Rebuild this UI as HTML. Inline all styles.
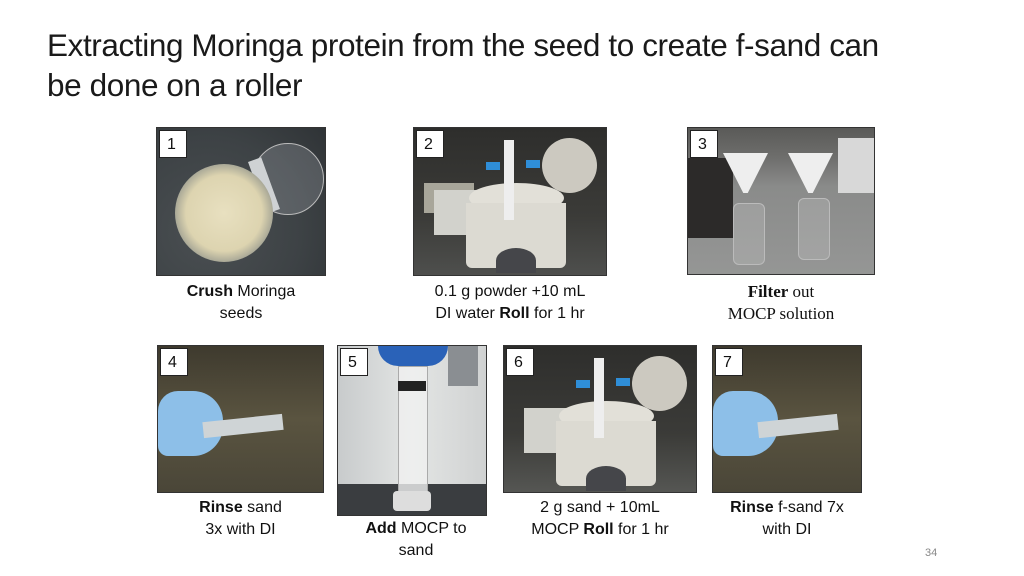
<!DOCTYPE html>
<html><head><meta charset="utf-8"><style>
body{margin:0;width:1024px;height:576px;background:#fff;position:relative;overflow:hidden;font-family:"Liberation Sans",sans-serif;color:#111}
.t{position:absolute;left:47px;top:25px;font-size:31.5px;line-height:40px;letter-spacing:-0.4px;color:#1a1a1a;white-space:nowrap}
.p{position:absolute;overflow:hidden;border:1px solid #333;box-sizing:border-box}
.n{position:absolute;left:2px;top:2px;width:28px;height:28px;background:#fff;border:1px solid #222;box-sizing:border-box;font-size:16px;line-height:27px;text-indent:7px;z-index:5}
.c{position:absolute;font-size:16px;line-height:22px;text-align:center;white-space:nowrap;color:#111}
.s{position:absolute}
.serif{font-family:"Liberation Serif",serif;font-size:17px}
</style></head><body>
<div class="t">Extracting Moringa protein from the seed to create f-sand can<br>be done on a roller</div>

<!-- 1 -->
<div class="p" style="left:156px;top:127px;width:170px;height:149px;background:radial-gradient(circle at 30% 70%,#4a4f52,#3d4245 60%,#2f3336)">
<div class="n">1</div>
<div class="s" style="left:95px;top:15px;width:70px;height:70px;border-radius:50%;border:1px solid #bbb;background:rgba(180,185,190,.25)"></div>
<div class="s" style="left:100px;top:30px;width:14px;height:55px;background:#cfd2d4;transform:rotate(-20deg)"></div>
<div class="s" style="left:18px;top:36px;width:98px;height:98px;border-radius:50%;background:radial-gradient(circle,#e8e0c0 0,#ddd4b0 55%,#8a8e88 80%,#5a5f60)"></div>
</div>
<div class="c" style="left:156px;top:281px;width:170px"><b>Crush</b> Moringa<br>seeds</div>

<!-- 2 -->
<div class="p" style="left:413px;top:127px;width:194px;height:149px;background:linear-gradient(#2e2e2c,#3b3b38 60%,#4e4f4d)">
<div class="n">2</div>
<div class="s" style="left:10px;top:55px;width:50px;height:30px;background:#a8a69a"></div>
<div class="s" style="left:20px;top:62px;width:45px;height:45px;background:#d2d2cc"></div>
<div class="s" style="left:128px;top:10px;width:55px;height:55px;border-radius:50%;background:#ccc9c0"></div>
<div class="s" style="left:55px;top:55px;width:95px;height:30px;border-radius:50%;background:#e2e0d8"></div>
<div class="s" style="left:52px;top:75px;width:100px;height:65px;background:#dcdad2;border-radius:0 0 6px 6px"></div>
<div class="s" style="left:82px;top:120px;width:40px;height:25px;border-radius:50% 50% 0 0;background:#45464a"></div>
<div class="s" style="left:90px;top:12px;width:10px;height:80px;background:#eee"></div>
<div class="s" style="left:72px;top:34px;width:14px;height:8px;background:#2f8ed8"></div>
<div class="s" style="left:112px;top:32px;width:14px;height:8px;background:#2f8ed8"></div>
</div>
<div class="c" style="left:413px;top:281px;width:194px">0.1 g powder +10 mL<br>DI water <b>Roll</b> for 1 hr</div>

<!-- 3 -->
<div class="p" style="left:687px;top:127px;width:188px;height:148px;background:linear-gradient(#5a5a58 0,#6e6e6c 20%,#8a8b8a 40%,#959695)">
<div class="n">3</div>
<div class="s" style="left:0;top:30px;width:45px;height:80px;background:#2c2a29"></div>
<div class="s" style="left:35px;top:25px;width:45px;height:40px;background:#eee;clip-path:polygon(0 0,100% 0,55% 100%,45% 100%)"></div>
<div class="s" style="left:100px;top:25px;width:45px;height:40px;background:#eee;clip-path:polygon(0 0,100% 0,55% 100%,45% 100%)"></div>
<div class="s" style="left:45px;top:75px;width:30px;height:60px;border:1px solid #bbb;border-radius:6px;background:rgba(200,200,200,.3)"></div>
<div class="s" style="left:110px;top:70px;width:30px;height:60px;border:1px solid #bbb;border-radius:6px;background:rgba(200,200,200,.3)"></div>
<div class="s" style="left:150px;top:10px;width:38px;height:55px;background:#d8d8d8"></div>
</div>
<div class="c serif" style="left:687px;top:281px;width:188px"><b>Filter</b> out<br>MOCP solution</div>

<!-- 4 -->
<div class="p" style="left:157px;top:345px;width:167px;height:148px;background:linear-gradient(#3e3a2e,#5a5440 50%,#4a4638)">
<div class="n">4</div>
<div class="s" style="left:0;top:45px;width:65px;height:65px;background:#8dbfe8;border-radius:20px 30px 30px 10px"></div>
<div class="s" style="left:45px;top:72px;width:80px;height:16px;background:#cfd4d6;transform:rotate(-6deg)"></div>
</div>
<div class="c" style="left:157px;top:497px;width:167px"><b>Rinse</b> sand<br>3x with DI</div>

<!-- 5 -->
<div class="p" style="left:337px;top:345px;width:150px;height:171px;background:linear-gradient(90deg,#c8cbcc,#e3e5e4 50%,#d0d2d2)">
<div class="n">5</div>
<div class="s" style="left:0;top:138px;width:150px;height:33px;background:#3a3d40"></div>
<div class="s" style="left:40px;top:0;width:70px;height:20px;background:#2a62b8;border-radius:0 0 20px 20px"></div>
<div class="s" style="left:60px;top:20px;width:28px;height:125px;background:rgba(240,240,240,.8);border:1px solid #aaa"></div>
<div class="s" style="left:60px;top:35px;width:28px;height:10px;background:#222"></div>
<div class="s" style="left:55px;top:145px;width:38px;height:20px;background:#ddd;border-radius:4px"></div>
<div class="s" style="left:110px;top:0;width:30px;height:40px;background:#8a8e92"></div>
</div>
<div class="c" style="left:337px;top:518px;width:158px"><b>Add</b> MOCP to<br>sand</div>

<!-- 6 -->
<div class="p" style="left:503px;top:345px;width:194px;height:148px;background:linear-gradient(#2e2e2c,#3b3b38 60%,#555653)">
<div class="n">6</div>
<div class="s" style="left:128px;top:10px;width:55px;height:55px;border-radius:50%;background:#ccc9c0"></div>
<div class="s" style="left:20px;top:62px;width:45px;height:45px;background:#d2d2cc"></div>
<div class="s" style="left:55px;top:55px;width:95px;height:30px;border-radius:50%;background:#e2e0d8"></div>
<div class="s" style="left:52px;top:75px;width:100px;height:65px;background:#dcdad2;border-radius:0 0 6px 6px"></div>
<div class="s" style="left:82px;top:120px;width:40px;height:25px;border-radius:50% 50% 0 0;background:#45464a"></div>
<div class="s" style="left:90px;top:12px;width:10px;height:80px;background:#eee"></div>
<div class="s" style="left:72px;top:34px;width:14px;height:8px;background:#2f8ed8"></div>
<div class="s" style="left:112px;top:32px;width:14px;height:8px;background:#2f8ed8"></div>
</div>
<div class="c" style="left:503px;top:497px;width:194px">2 g sand + 10mL<br>MOCP <b>Roll</b> for 1 hr</div>

<!-- 7 -->
<div class="p" style="left:712px;top:345px;width:150px;height:148px;background:linear-gradient(#3e3a2e,#5a5440 50%,#4a4638)">
<div class="n">7</div>
<div class="s" style="left:0;top:45px;width:65px;height:65px;background:#8dbfe8;border-radius:20px 30px 30px 10px"></div>
<div class="s" style="left:45px;top:72px;width:80px;height:16px;background:#cfd4d6;transform:rotate(-6deg)"></div>
</div>
<div class="c" style="left:712px;top:497px;width:150px"><b>Rinse</b> f-sand 7x<br>with DI</div>

<div class="c" style="left:925px;top:542px;font-size:11px;color:#888">34</div>
</body></html>
